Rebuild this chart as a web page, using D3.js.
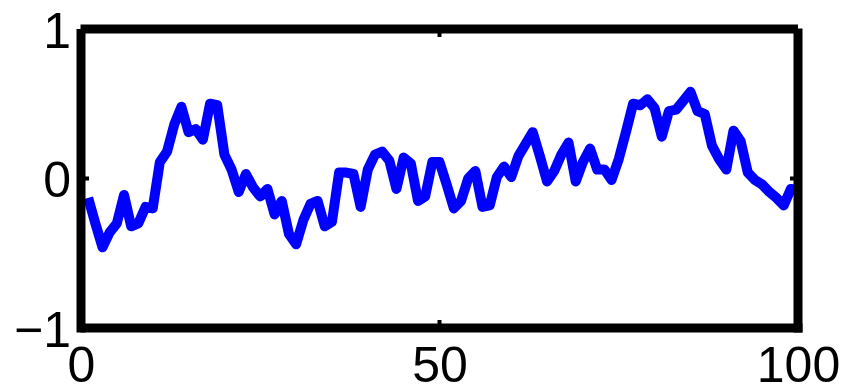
<!DOCTYPE html>
<html>
<head>
<meta charset="utf-8">
<script src="https://cdn.jsdelivr.net/npm/d3@7"></script>
<style>
  html, body { margin: 0; padding: 0; background: #fff; }
  svg { display: block; }
  text { font-family: "Liberation Sans", Arial, sans-serif; fill: #000; }
</style>
</head>
<body>
<svg id="chart" width="847" height="392"></svg>
<script>
// Sample index and signal values
const xValues = d3.range(1, 101);
const yValues = [
  -0.13, -0.30, -0.46, -0.36, -0.30, -0.11, -0.32, -0.30, -0.19, -0.20,
   0.11,  0.18,  0.36,  0.48,  0.31,  0.33,  0.26,  0.50,  0.49,  0.16,
   0.06, -0.09,  0.03, -0.06, -0.12, -0.07, -0.24, -0.15, -0.37, -0.44,
  -0.28, -0.17, -0.15, -0.32, -0.29,  0.04,  0.04,  0.03, -0.19,  0.06,
   0.16,  0.18,  0.12, -0.07,  0.14,  0.10, -0.15, -0.12,  0.11,  0.11,
  -0.04, -0.20, -0.15,  0.00,  0.05, -0.19, -0.18,  0.01,  0.08,  0.01,
   0.15,  0.23,  0.31,  0.15, -0.02,  0.05,  0.16,  0.24, -0.02,  0.11,
   0.20,  0.06,  0.06, -0.01,  0.13,  0.31,  0.50,  0.49,  0.53,  0.47,
   0.28,  0.45,  0.46,  0.52,  0.58,  0.45,  0.43,  0.22,  0.13,  0.06,
   0.32,  0.25,  0.04, -0.01, -0.04, -0.09, -0.13, -0.18, -0.07, -0.08
];
const xTicks = [0, 50, 100];
const yTicks = [-1, 0, 1];
const yTickLabels = ["\u22121", "0", "1"];

const svg = d3.select("#chart");
const plotLeft = 81, plotRight = 798, plotTop = 29, plotBottom = 328;

const x = d3.scaleLinear().domain([0, 100]).range([plotLeft, plotRight]);
const y = d3.scaleLinear().domain([-1, 1]).range([plotBottom, plotTop]);

const data = xValues.map((v, i) => ({ x: v, y: yValues[i] }));

// Signal trace
svg.append("path")
  .datum(data)
  .attr("fill", "none")
  .attr("stroke", "#0000ff")
  .attr("stroke-width", 10)
  .attr("stroke-linejoin", "round")
  .attr("stroke-linecap", "butt")
  .attr("d", d3.line().x(d => x(d.x)).y(d => y(d.y)));

// Axes: labels only, frame drawn separately
const fontSize = 50;
const xAxis = svg.append("g")
  .attr("transform", `translate(0,${plotBottom})`)
  .call(d3.axisBottom(x).tickValues(xTicks).tickSize(0).tickPadding(54).tickFormat(d3.format("d")));
const yAxis = svg.append("g")
  .attr("transform", `translate(${plotLeft},0)`)
  .call(d3.axisLeft(y).tickValues(yTicks).tickSize(0).tickPadding(10)
    .tickFormat(d => yTickLabels[yTicks.indexOf(d)]));
[xAxis, yAxis].forEach(g => {
  g.select(".domain").remove();
  g.selectAll("text").attr("font-size", fontSize)
    .attr("font-family", "'Liberation Sans', Arial, sans-serif").attr("fill", "#000");
});
// baseline placed directly (tickPadding gives the baseline offset)
xAxis.selectAll("text").attr("dy", "0");
yAxis.selectAll("text").attr("dy", "0.36em");

// Box frame, each side as its own segment
const frame = svg.append("g").attr("stroke", "#000").attr("stroke-width", 9).attr("stroke-linecap", "butt");
[[plotLeft, plotBottom + 4.5, plotLeft, plotTop], [plotLeft - 0.5, plotTop, plotRight, plotTop],
 [plotRight, plotTop - 0.5, plotRight, plotBottom + 4.5], [plotLeft - 0.5, plotBottom, plotRight + 4.5, plotBottom]]
  .forEach(([x1, y1, x2, y2]) => frame.append("line")
    .attr("x1", x1).attr("y1", y1).attr("x2", x2).attr("y2", y2));

// Inward tick marks at the middle values
const tickLen = 8;
const ticks = svg.append("g").attr("stroke", "#000").attr("stroke-width", 4);
ticks.append("line").attr("x1", plotLeft).attr("x2", plotLeft + tickLen).attr("y1", y(0)).attr("y2", y(0));
ticks.append("line").attr("x1", plotRight).attr("x2", plotRight - tickLen).attr("y1", y(0)).attr("y2", y(0));
ticks.append("line").attr("x1", x(50)).attr("x2", x(50)).attr("y1", plotTop).attr("y2", plotTop + tickLen);
ticks.append("line").attr("x1", x(50)).attr("x2", x(50)).attr("y1", plotBottom).attr("y2", plotBottom - tickLen);
</script>
</body>
</html>
